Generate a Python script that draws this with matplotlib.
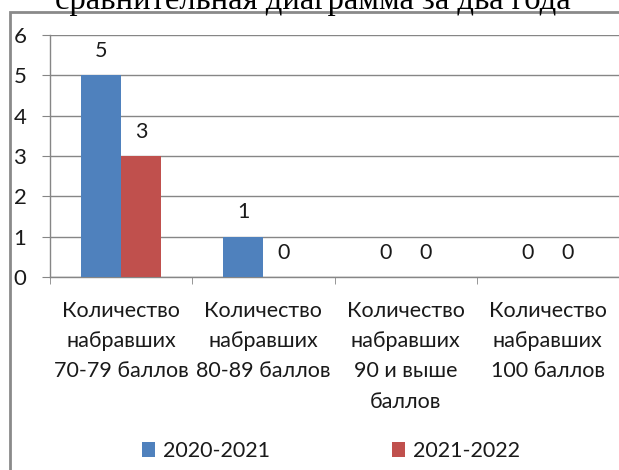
import matplotlib
matplotlib.use("Agg")
import matplotlib.pyplot as plt
from matplotlib.patches import Rectangle, Patch
import numpy as np

title = "сравнительная диаграмма за два года"
categories = ["Количество\nнабравших\n70-79 баллов",
              "Количество\nнабравших\n80-89 баллов",
              "Количество\nнабравших\n90 и выше\nбаллов",
              "Количество\nнабравших\n100 баллов"]
series_names = ["2020-2021", "2021-2022"]
values_2020 = [5, 1, 0, 0]
values_2021 = [3, 0, 0, 0]
yticks = [0, 1, 2, 3, 4, 5, 6]

colors = ["#4F81BD", "#C0504D"]
grid_color = "#868686"
FONT = "Lato"

W, H = 619, 470
fig = plt.figure(figsize=(W / 100, H / 100), dpi=100)

def fx(px):
    return px / W

def fy(py):
    return 1 - py / H

ax = fig.add_axes([fx(50), fy(277), fx(619) - fx(50), fy(35) - fy(277)])

x = np.arange(len(categories))
bw = 0.283
for i, (vals, name) in enumerate(zip([values_2020, values_2021], series_names)):
    pos = x + (i - 0.5) * bw
    ax.bar(pos, vals, width=bw, color=colors[i], label=name, zorder=3)
    for p, v in zip(pos, vals):
        ax.annotate(str(v), (p, v), xytext=(0, 17.5), textcoords="offset points",
                    ha="center", va="center", fontsize=15.5, family=FONT, color="#1a1a1a")

ax.set_ylim(0, 6)
ax.set_xlim(-0.5, (619 - 50) / 145 - 0.5)
ax.set_yticks(yticks)
ax.set_yticklabels([str(t) for t in yticks], family=FONT, fontsize=16, color="#1a1a1a")
ax.yaxis.grid(True, color=grid_color, linewidth=1, zorder=0)
ax.set_axisbelow(True)
for s in ["top", "right"]:
    ax.spines[s].set_visible(False)
for s in ["left", "bottom"]:
    ax.spines[s].set_color(grid_color)
    ax.spines[s].set_linewidth(1)
ax.tick_params(axis="y", length=6, color=grid_color, pad=11)

ax.set_xticks(x)
ax.set_xticklabels(categories, family=FONT, fontsize=15.5, color="#1a1a1a", linespacing=1.65)
ax.tick_params(axis="x", which="major", length=0, pad=17)
ax.set_xticks(np.arange(-0.5, len(categories), 1.0), minor=True)
ax.tick_params(axis="x", which="minor", length=5, color=grid_color)

# title (partly cut off at the top, as in the reference)
fig.text(fx(313), fy(9), title, ha="center", va="baseline",
         family="Liberation Serif", fontsize=23.5, color="#000000")

# outer border
fig.add_artist(Rectangle((fx(10), fy(480)), 1.2, fy(12.5) - fy(480),
                         transform=fig.transFigure, fill=False,
                         edgecolor="#8a8a8a", linewidth=2))

handles = [Patch(facecolor=c, edgecolor="none") for c in colors]
leg = fig.legend(handles, series_names, loc="center", bbox_to_anchor=(fx(331), fy(451)),
                 ncol=2, frameon=False, prop={"family": FONT, "size": 15.5},
                 handlelength=0.6, handleheight=0.7, handletextpad=0.35, columnspacing=5.7)
for t in leg.get_texts():
    t.set_color("#1a1a1a")

fig.savefig("out.png", dpi=100)
